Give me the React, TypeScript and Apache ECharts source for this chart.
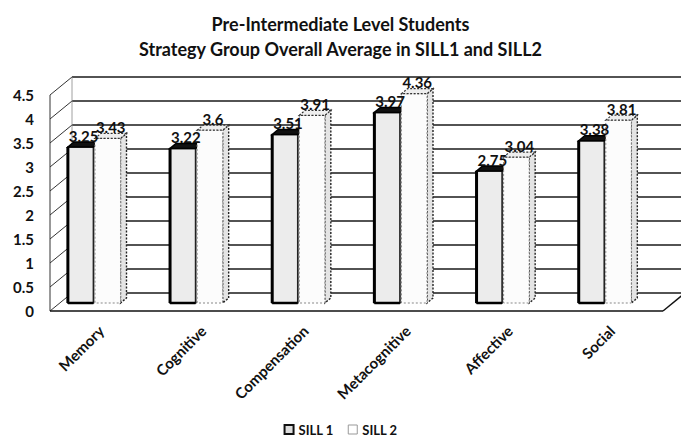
import React, { useEffect, useRef } from "react";
import * as echarts from "echarts";

const categories = ["Memory", "Cognitive", "Compensation", "Metacognitive", "Affective", "Social"];
const sill1 = [3.25, 3.22, 3.51, 3.97, 2.75, 3.38];
const sill2 = [3.43, 3.6, 3.91, 4.36, 3.04, 3.81];
const yTicks = [0, 0.5, 1, 1.5, 2, 2.5, 3, 3.5, 4, 4.5];
const seriesNames = ["SILL 1", "SILL 2"];

const FONT = "Lato, 'Open Sans', sans-serif";
const DX = 22;
const DY = 18;
const LIFT = 8;
const BDX = 6;
const BDY = 5;

function wallRender(params: any, api: any) {
  const cs = params.coordSys;
  const L = cs.x;
  const R = cs.x + cs.width;
  const children: any[] = [];
  const ls = { stroke: "#1a1a1a", lineWidth: 1.3 };
  const y0 = api.coord([0, 0])[1];
  const yTop = api.coord([0, yTicks[yTicks.length - 1]])[1];
  yTicks.forEach((t) => {
    const y = api.coord([0, t])[1];
    children.push({ type: "line", shape: { x1: L + DX, y1: y - DY, x2: R + DX, y2: y - DY }, style: ls });
    children.push({ type: "line", shape: { x1: L, y1: y, x2: L + DX, y2: y - DY }, style: { stroke: "#333", lineWidth: 1 } });
  });
  children.push({ type: "line", shape: { x1: L, y1: y0, x2: L, y2: yTop }, style: { stroke: "#333", lineWidth: 1 } });
  children.push({ type: "line", shape: { x1: L + DX, y1: y0 - DY, x2: L + DX, y2: yTop - DY }, style: { stroke: "#888", lineWidth: 0.8 } });
  children.push({ type: "line", shape: { x1: L, y1: y0, x2: R, y2: y0 }, style: { stroke: "#111", lineWidth: 1.6 } });
  children.push({ type: "line", shape: { x1: R, y1: y0, x2: R + DX, y2: y0 - DY }, style: { stroke: "#111", lineWidth: 1.4 } });
  return { type: "group", children };
}

function barGeom(which: number, api: any) {
  const idx = api.value(0);
  const v = api.value(1);
  const base = api.coord([idx, 0]);
  const top = api.coord([idx, v]);
  const bw = api.size([1, 0])[0];
  const s = base[0] - bw / 2;
  const w = bw * 0.25;
  const x0 = s + bw * (which === 0 ? 0.175 : 0.44);
  return { v, x0, w, yb: base[1] - LIFT, yt: top[1] - LIFT };
}

const makeBar = (which: number) => (params: any, api: any) => {
  const { x0, w, yb, yt } = barGeom(which, api);
  const dx = BDX;
  const dy = BDY;
  const children: any[] = [];
  const sidePts = [[x0 + w, yt], [x0 + w + dx, yt - dy], [x0 + w + dx, yb - dy], [x0 + w, yb]];
  const topPts = [[x0, yt], [x0 + dx, yt - dy], [x0 + w + dx, yt - dy], [x0 + w, yt]];
  if (which === 0) {
    children.push({ type: "polygon", shape: { points: sidePts }, style: { fill: "#cfcfcf", stroke: "#444", lineWidth: 1, lineDash: [2, 2] } });
    children.push({ type: "rect", shape: { x: x0, y: yt, width: w, height: yb - yt }, style: { fill: "#ececec", stroke: "#222", lineWidth: 1.6 } });
    children.push({ type: "line", shape: { x1: x0, y1: yt, x2: x0, y2: yb }, style: { stroke: "#000", lineWidth: 3 } });
    children.push({ type: "line", shape: { x1: x0, y1: yb, x2: x0 + w, y2: yb }, style: { stroke: "#000", lineWidth: 2.5 } });
    children.push({ type: "polygon", shape: { points: topPts }, style: { fill: "#111", stroke: "#000", lineWidth: 1.5 } });
  } else {
    children.push({ type: "polygon", shape: { points: sidePts }, style: { fill: "#e4e4e4", stroke: "#222", lineWidth: 1.4, lineDash: [2, 1.5] } });
    children.push({ type: "rect", shape: { x: x0, y: yt, width: w, height: yb - yt }, style: { fill: "#fcfcfc", stroke: "#888", lineWidth: 1, lineDash: [2, 2] } });
    children.push({ type: "polygon", shape: { points: topPts }, style: { fill: "#eeeeee", stroke: "#333", lineWidth: 1.2, lineDash: [2, 1.5] } });
  }
  return { type: "group", children };
};

const makeLabel = (which: number) => (params: any, api: any) => {
  const { v, x0, w, yt } = barGeom(which, api);
  return {
    type: "text",
    style: {
      text: String(v),
      x: x0 + w / 2 + BDX / 2,
      y: yt - BDY + 1,
      align: "center",
      verticalAlign: "bottom",
      font: `bold 15px ${FONT}`,
      fill: "#111",
    },
  };
};

export default function App() {
  const ref = useRef<HTMLDivElement>(null);
  useEffect(() => {
    document.body.style.margin = "0";
    if (!ref.current) return;
    const chart = echarts.init(ref.current, undefined, { renderer: "svg" });
    const d1 = sill1.map((v, i) => [i, v]);
    const d2 = sill2.map((v, i) => [i, v]);
    chart.setOption({
      animation: false,
      backgroundColor: "#ffffff",
      title: {
        text: "Pre-Intermediate Level Students\nStrategy Group Overall Average in SILL1 and SILL2",
        left: "center",
        top: 6,
        padding: [5, 0, 5, 16],
        textStyle: { fontFamily: FONT, fontWeight: "bold", fontSize: 18, lineHeight: 25, color: "#111" },
      },
      legend: {
        data: [
          { name: seriesNames[0], itemStyle: { color: "#dddddd", borderColor: "#111", borderWidth: 2 } },
          { name: seriesNames[1], itemStyle: { color: "#ffffff", borderColor: "#999", borderWidth: 1 } },
        ],
        bottom: -3,
        left: "center",
        padding: [5, 0, 5, 6],
        itemWidth: 9,
        itemHeight: 9,
        itemGap: 14,
        icon: "rect",
        textStyle: { fontFamily: FONT, fontWeight: "bold", fontSize: 13, color: "#111" },
      },
      grid: { left: 50, right: 18, top: 95, bottom: 127 },
      xAxis: {
        type: "category",
        data: categories,
        axisLine: { show: false },
        axisTick: { show: false },
        axisLabel: { rotate: 45, margin: 17, fontFamily: FONT, fontWeight: "bold", fontSize: 15, color: "#111", interval: 0 },
      },
      yAxis: {
        type: "value",
        min: 0,
        max: 4.5,
        interval: 0.5,
        axisLine: { show: false },
        axisTick: { show: false },
        splitLine: { show: false },
        axisLabel: { fontFamily: FONT, fontWeight: "bold", fontSize: 15, color: "#111", margin: 16 },
      },
      series: [
        { type: "custom", name: "wall", renderItem: wallRender, data: [[0, 0]], z: 1, silent: true },
        {
          type: "custom",
          name: seriesNames[0],
          renderItem: makeBar(0),
          data: d1,
          encode: { x: 0, y: 1 },
          itemStyle: { color: "#dddddd", borderColor: "#111", borderWidth: 2 },
          z: 2,
        },
        {
          type: "custom",
          name: seriesNames[1],
          renderItem: makeBar(1),
          data: d2,
          encode: { x: 0, y: 1 },
          itemStyle: { color: "#ffffff", borderColor: "#999", borderWidth: 1 },
          z: 3,
        },
        { type: "custom", name: "labels1", renderItem: makeLabel(0), data: d1, encode: { x: 0, y: 1 }, z: 10, silent: true },
        { type: "custom", name: "labels2", renderItem: makeLabel(1), data: d2, encode: { x: 0, y: 1 }, z: 10, silent: true },
      ],
    });
    return () => chart.dispose();
  }, []);
  return <div ref={ref} style={{ width: 681, height: 438 }} />;
}
